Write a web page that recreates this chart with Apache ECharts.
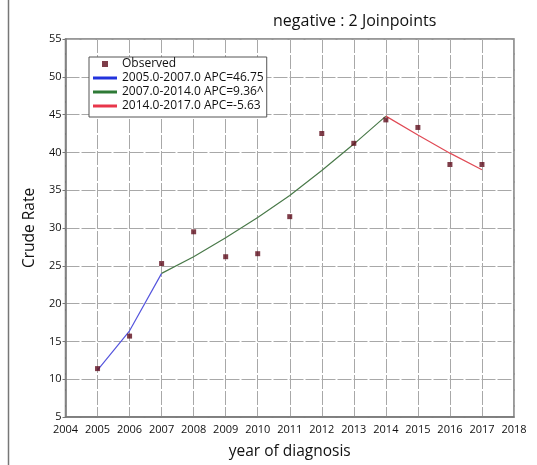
<!DOCTYPE html>
<html>
<head>
<meta charset="utf-8">
<script src="https://cdn.jsdelivr.net/npm/echarts@6/dist/echarts.min.js"></script>
<style>
  html, body { margin: 0; padding: 0; background: #fff; }
  #main { width: 537px; height: 465px; }
</style>
</head>
<body>
<div id="main"></div>
<script>
// observed crude rates
var obsYears = [2005, 2006, 2007, 2008, 2009, 2010, 2011, 2012, 2013, 2014, 2015, 2016, 2017];
var obsRates = [11.4, 15.7, 25.3, 29.5, 26.2, 26.6, 31.5, 42.5, 41.2, 44.3, 43.3, 38.4, 38.4];

// fitted segments
var seg1Years = [2005, 2006, 2007];
var seg1Rates = [11.2, 16.4, 24.0];
var seg2Years = [2007, 2008, 2009, 2010, 2011, 2012, 2013, 2014];
var seg2Rates = [24.0, 26.2, 28.7, 31.4, 34.3, 37.6, 41.1, 44.8];
var seg3Years = [2014, 2015, 2016, 2017];
var seg3Rates = [44.8, 42.3, 39.9, 37.7];

var names = ['Observed', '2005.0-2007.0 APC=46.75', '2007.0-2014.0 APC=9.36^', '2014.0-2017.0 APC=-5.63'];

function pairs(xs, ys) {
    return xs.map(function (x, i) { return [x, ys[i]]; });
}

var font = 'Open Sans';
var lineIcon = 'path://M0,0L24,0L24,3L0,3Z';
var dotIcon = 'path://M0,0L1,0L1,1L0,1Z';
var gridLine = { color: '#a8a8a8', width: 1, type: [14, 2] };

var option = {
    animation: false,
    backgroundColor: '#fff',
    textStyle: { fontFamily: font },
    title: {
        text: 'negative : 2 Joinpoints',
        left: 268,
        top: 8,
        textStyle: { fontFamily: font, fontSize: 16, fontWeight: 'normal', color: '#111' }
    },
    legend: {
        orient: 'vertical',
        left: 89,
        top: 57,
        padding: [1, 3, 5, 4],
        itemWidth: 24,
        itemHeight: 6,
        itemGap: 2,
        backgroundColor: '#fff',
        borderColor: '#555',
        borderWidth: 1,
        textStyle: { fontFamily: font, fontSize: 12, lineHeight: 12, color: '#111' },
        data: [
            { name: names[0], icon: dotIcon },
            { name: names[1], icon: lineIcon },
            { name: names[2], icon: lineIcon },
            { name: names[3], icon: lineIcon }
        ]
    },
    grid: {
        left: 65.5,
        top: 39,
        right: 23,
        bottom: 47,
        show: true,
        borderColor: '#777',
        borderWidth: 1.5
    },
    xAxis: {
        type: 'value',
        min: 2004,
        max: 2018,
        interval: 1,
        name: 'year of diagnosis',
        nameLocation: 'middle',
        nameGap: 27,
        nameTextStyle: { fontFamily: font, fontSize: 15.5, color: '#111' },
        axisLine: { lineStyle: { color: '#777', width: 1.5 } },
        axisTick: { show: false },
        axisLabel: {
            fontFamily: font, fontSize: 11, color: '#111', margin: 7,
            formatter: function (v) { return String(v); }
        },
        splitLine: { lineStyle: gridLine }
    },
    yAxis: {
        type: 'value',
        min: 5,
        max: 55,
        interval: 5,
        name: 'Crude Rate',
        nameLocation: 'middle',
        nameGap: 24,
        nameTextStyle: { fontFamily: font, fontSize: 15.5, color: '#111' },
        axisLine: { lineStyle: { color: '#777', width: 1.5 } },
        axisTick: { show: true, length: 3, lineStyle: { color: '#777' } },
        axisLabel: { fontFamily: font, fontSize: 11, color: '#111', margin: 4 },
        splitLine: { lineStyle: gridLine }
    },
    series: [
        {
            name: names[1],
            type: 'line',
            data: pairs(seg1Years, seg1Rates),
            showSymbol: false,
            color: '#2233dd',
            lineStyle: { color: '#5555dd', width: 1.2 },
            z: 2
        },
        {
            name: names[2],
            type: 'line',
            data: pairs(seg2Years, seg2Rates),
            showSymbol: false,
            color: '#2e7a36',
            lineStyle: { color: '#4a7a4a', width: 1.2 },
            z: 2
        },
        {
            name: names[3],
            type: 'line',
            data: pairs(seg3Years, seg3Rates),
            showSymbol: false,
            color: '#e8364a',
            lineStyle: { color: '#e04a55', width: 1.2 },
            z: 2
        },
        {
            name: names[0],
            type: 'scatter',
            data: pairs(obsYears, obsRates),
            symbol: 'rect',
            symbolSize: 5,
            itemStyle: { color: '#5e0c1c' },
            z: 3
        }
    ],
    graphic: [
        {
            type: 'line',
            shape: { x1: 8.5, y1: 0, x2: 8.5, y2: 465 },
            style: { stroke: '#777', lineWidth: 1.5 }
        }
    ]
};

var chart = echarts.init(document.getElementById('main'));
chart.setOption(option);
</script>
</body>
</html>
